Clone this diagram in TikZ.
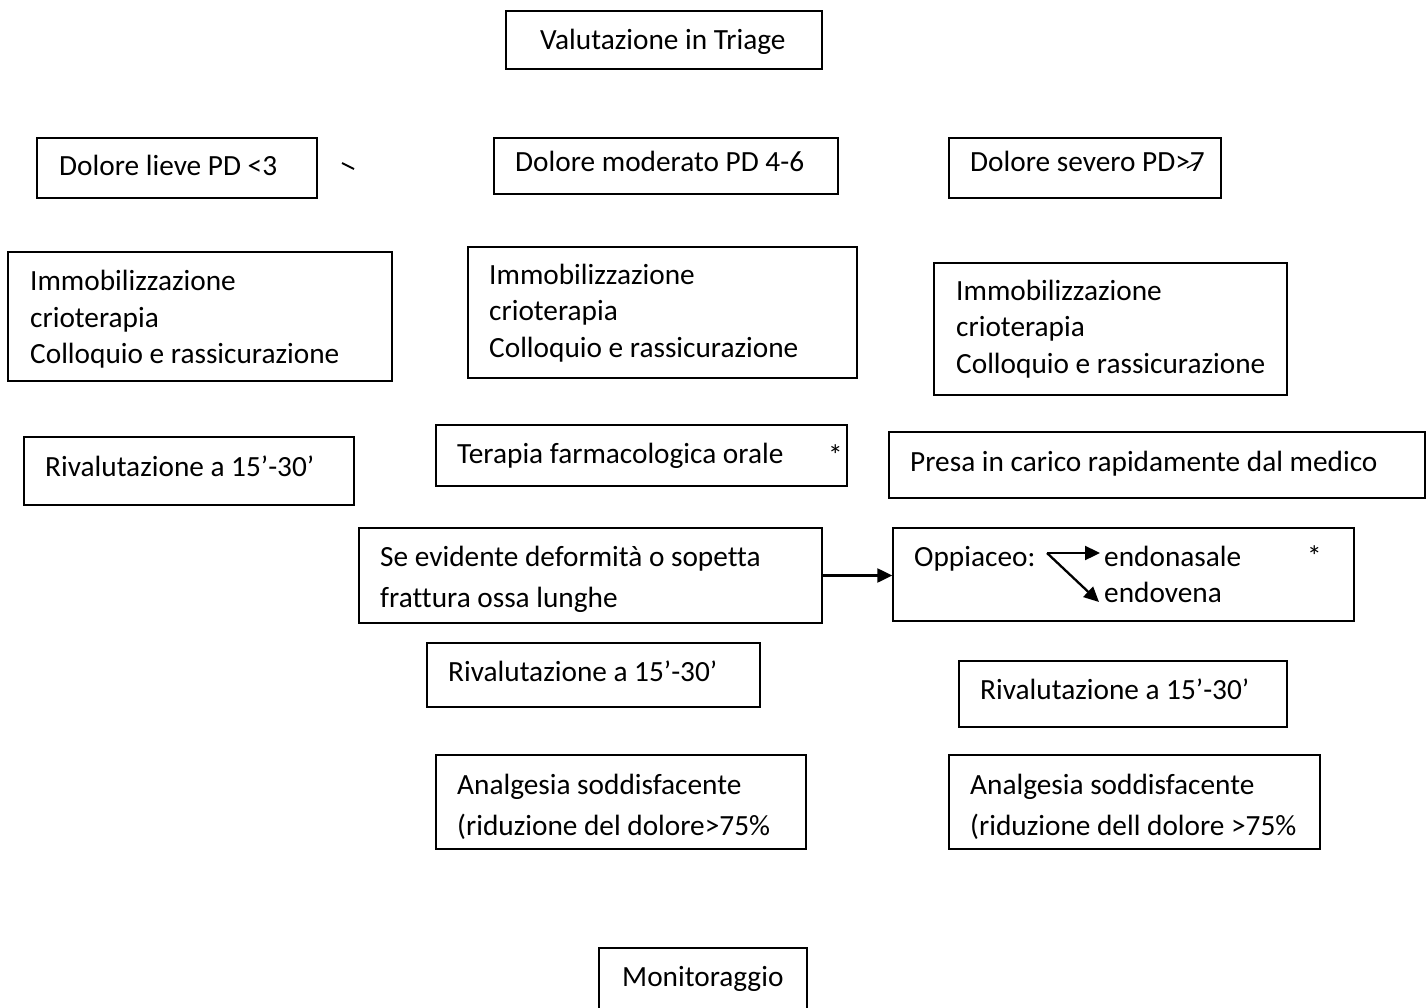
\documentclass[tikz,border=0pt]{standalone}
\usepackage{fontspec}
\setmainfont{Carlito}[Ligatures=NoCommon]
\usetikzlibrary{arrows.meta}
\tikzset{
  box/.style={draw=black, line width=1.4pt, rectangle, inner sep=0pt},
  txt/.style={anchor=base west, inner sep=0pt, font=\fontsize{29.3}{36}\selectfont},
  arr/.style={line width=2.3pt, -{Triangle[length=15pt,width=14pt]}},
}
\newcommand{\mybox}[5]{\node[box,minimum width={#4-#2},minimum height={#5-#3}] (#1) at ({(#2+#4)/2},{(#3+#5)/2}) {};}
\begin{document}
\begin{tikzpicture}[x=1pt,y=-1pt]
\useasboundingbox (0,0) rectangle (1427,1008);
\clip (0,0) rectangle (1427,1008);
\fill[white] (0,0) rectangle (1427,1008);
% boxes
\mybox{b0}{506}{11}{822}{69}
\mybox{b1}{37}{138}{317}{198}
\mybox{b2}{494}{138}{838}{194}
\mybox{b3}{949}{138}{1221}{198}
\mybox{b4}{8}{252}{392}{381}
\mybox{b5}{468}{247}{857}{378}
\mybox{b6}{934}{263}{1287}{395}
\mybox{b7}{24}{437}{354}{505}
\mybox{b8}{436}{425}{847}{486}
\mybox{b9}{889}{432}{1425}{498}
\mybox{b10}{359}{528}{822}{623}
\mybox{b11}{893}{528}{1354}{621}
\mybox{b12}{427}{643}{760}{707}
\mybox{b13}{959}{661}{1287}{727}
\mybox{b14}{436}{755}{806}{849}
\mybox{b15}{949}{755}{1320}{849}
\mybox{b16}{599}{948}{807}{1030}
% texts
\node[txt] (t0) at (540,50) {Valutazione in Triage};
\node[txt] (t1) at (59,176) {Dolore lieve PD <3};
\node[txt] (t2) at (515,172) {Dolore moderato PD 4-6};
\node[txt] (t3) at (970,172) {Dolore severo PD>7};
\draw[line width=1.3pt] (1187,168) -- (1200,161);
\draw[line width=1.8pt] (342,163) -- (354,169);
\node[txt] (t4a) at (30,291) {Immobilizzazione};
\node[txt] (t4b) at (30,327) {crioterapia};
\node[txt] (t4c) at (30,363) {Colloquio e rassicurazione};
\node[txt] (t5a) at (489,285) {Immobilizzazione};
\node[txt] (t5b) at (489,321) {crioterapia};
\node[txt] (t5c) at (489,357) {Colloquio e rassicurazione};
\node[txt] (t6a) at (956,301) {Immobilizzazione};
\node[txt] (t6b) at (956,337) {crioterapia};
\node[txt] (t6c) at (956,373) {Colloquio e rassicurazione};
\node[txt] (t7) at (45,476) {Rivalutazione a 15’-30’};
\node[txt] (t8) at (457,463) {Terapia farmacologica orale};
\node[txt] (t8s) at (828,465) {*};
\node[txt] (t9) at (910,471) {Presa in carico rapidamente dal medico};
\node[txt] (t10a) at (380,566) {Se evidente deformità o sopetta};
\node[txt] (t10b) at (380,607) {frattura ossa lunghe};
\node[txt] (t11) at (914,566) {Oppiaceo:};
\node[txt] (t11a) at (1104,566) {endonasale};
\node[txt] (t11b) at (1104,602) {endovena};
\node[txt] (t11s) at (1307,566) {*};
\node[txt] (t12) at (448,681) {Rivalutazione a 15’-30’};
\node[txt] (t13) at (980,699) {Rivalutazione a 15’-30’};
\node[txt] (t14a) at (457,794) {Analgesia soddisfacente};
\node[txt] (t14b) at (457,835) {(riduzione del dolore>75\%};
\node[txt] (t15a) at (970,794) {Analgesia soddisfacente};
\node[txt] (t15b) at (970,835) {(riduzione dell dolore >75\%};
\node[txt] (t16) at (622,986) {Monitoraggio};
% connectors
\draw[arr] (b10.east) -- (b10.east -| b11.west);
\coordinate (o) at (1047,553);
\coordinate (oa) at (1100,553);
\coordinate (ob) at (1099,602);
\draw[arr] (o) -- (oa);
\draw[arr] (o) -- (ob);
\end{tikzpicture}
\end{document}
